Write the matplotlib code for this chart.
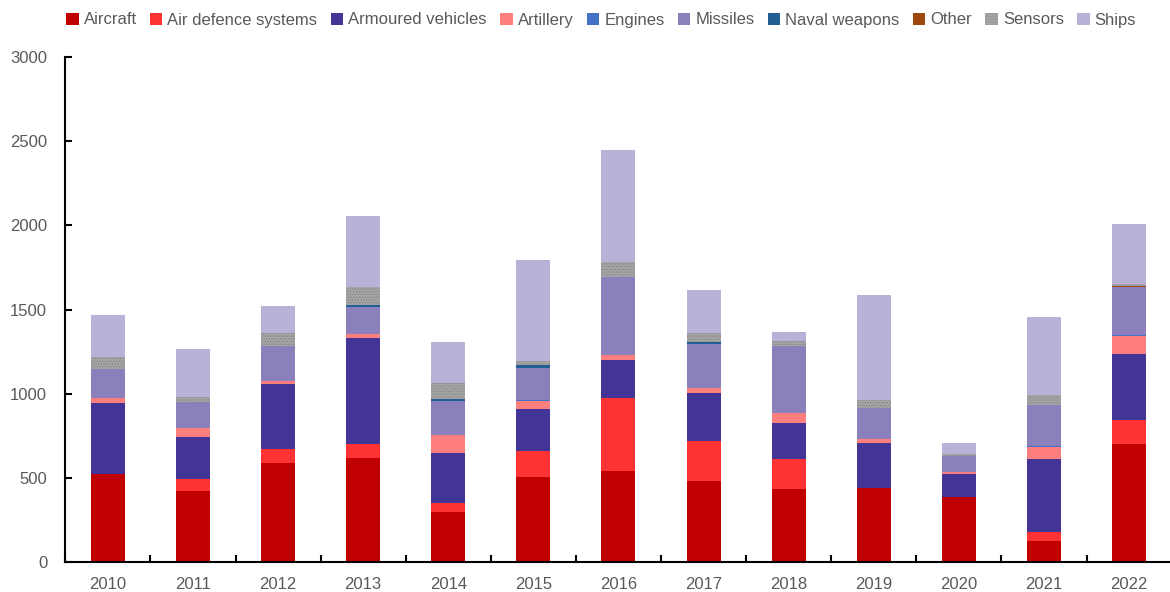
import matplotlib.pyplot as plt
import numpy as np

plt.rcParams['font.family'] = ['Liberation Sans', 'DejaVu Sans']
plt.rcParams['hatch.linewidth'] = 0.6

years = ['2010', '2011', '2012', '2013', '2014', '2015', '2016',
         '2017', '2018', '2019', '2020', '2021', '2022']

aircraft = [524, 424, 590, 618, 299, 507, 541, 481, 435, 440, 388, 127, 701]
air_defence = [0, 67, 81, 83, 50, 154, 431, 238, 177, 0, 0, 49, 142]
armoured = [419, 253, 388, 630, 297, 250, 226, 287, 216, 267, 136, 436, 393]
artillery = [33, 52, 16, 21, 108, 44, 32, 28, 55, 22, 11, 73, 107]
engines = [0, 0, 0, 0, 0, 5, 0, 0, 4, 0, 0, 5, 5]
missiles = [170, 154, 210, 165, 202, 194, 461, 259, 394, 188, 96, 243, 287]
naval = [0, 0, 0, 8, 10, 16, 0, 12, 0, 0, 0, 0, 0]
other = [0, 0, 0, 0, 0, 0, 0, 0, 0, 0, 0, 0, 6]
sensors = [72, 28, 73, 109, 97, 24, 91, 55, 32, 45, 10, 59, 9]
ships = [251, 285, 161, 423, 242, 602, 665, 254, 55, 624, 64, 465, 360]

series = [
    ('Aircraft', aircraft, '#C00000'),
    ('Air defence systems', air_defence, '#FF3333'),
    ('Armoured vehicles', armoured, '#433497'),
    ('Artillery', artillery, '#FF7F7F'),
    ('Engines', engines, '#4472C4'),
    ('Missiles', missiles, '#8B80BC'),
    ('Naval weapons', naval, '#225E93'),
    ('Other', other, '#9E480E'),
    ('Sensors', sensors, '#A5A5A5'),
    ('Ships', ships, '#B8B2D8'),
]

fig = plt.figure(figsize=(11.7, 5.92), dpi=100)
ax = fig.add_axes([65.3 / 1170, 30 / 592, 1106.3 / 1170, 505 / 592])

x = np.arange(len(years))
bottom = np.zeros(len(years))
for name, vals, col in series:
    vals = np.array(vals, dtype=float)
    if name == 'Sensors':
        ax.bar(x, vals, 0.40, bottom=bottom, color=col, edgecolor='#858585',
               linewidth=0, hatch='......', label=name)
    else:
        ax.bar(x, vals, 0.40, bottom=bottom, color=col, linewidth=0, label=name)
    bottom += vals

ax.set_xlim(-0.5, len(years) - 0.5)
ax.set_ylim(0, 3000)
ax.set_yticks(np.arange(0, 3001, 500))
ax.set_xticks(x)
ax.set_xticklabels(years)
ax.set_xticks(np.arange(-0.5, len(years), 1), minor=True)
ax.tick_params(axis='x', which='major', length=0, pad=11, labelsize=12, labelcolor='#595959')
ax.tick_params(axis='x', which='minor', length=5, width=1.5, direction='in', color='black')
ax.tick_params(axis='y', length=5, width=1.5, direction='in', pad=13, labelsize=12,
               labelcolor='#595959')
for s in ['top', 'right']:
    ax.spines[s].set_visible(False)
for s in ['left', 'bottom']:
    ax.spines[s].set_linewidth(1.5)

legend_handles = []
for name, vals, col in series:
    if name == 'Sensors':
        legend_handles.append(plt.Rectangle((0, 0), 1, 1, facecolor=col, edgecolor='#909090',
                                            linewidth=0, hatch='......'))
    else:
        legend_handles.append(plt.Rectangle((0, 0), 1, 1, facecolor=col, linewidth=0))
fig.legend(legend_handles, [s[0] for s in series], loc='center left',
           bbox_to_anchor=(66 / 1170, 1 - 20 / 592), ncol=10, frameon=False,
           fontsize=12, handlelength=0.75, handleheight=0.75, handletextpad=0.3,
           columnspacing=0.8, borderaxespad=0, borderpad=0,
           labelcolor='#595959')

fig.savefig('out.png', dpi=100)
